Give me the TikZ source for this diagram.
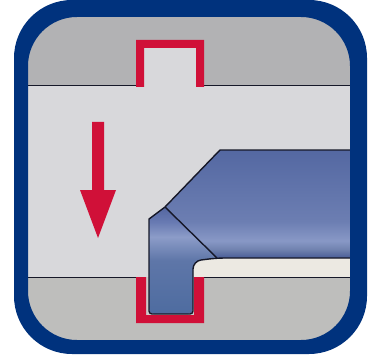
\documentclass[tikz,border=0pt]{standalone}
\definecolor{navy}{RGB}{0,50,125}
\definecolor{rd}{RGB}{208,16,56}
\definecolor{gtop}{RGB}{178,178,180}
\definecolor{gbot}{RGB}{190,190,188}
\definecolor{gmid}{RGB}{216,216,219}
\definecolor{strip}{RGB}{236,233,226}
\definecolor{edge}{RGB}{22,24,40}
\definecolor{bA}{RGB}{72,92,150}
\definecolor{bB}{RGB}{112,130,175}
\definecolor{bC}{RGB}{136,152,198}
\definecolor{bD}{RGB}{108,126,178}
\definecolor{bE}{RGB}{84,104,162}
\definecolor{tA}{RGB}{78,108,160}
\definecolor{tB}{RGB}{94,118,168}
\definecolor{tC}{RGB}{140,156,200}
\definecolor{tD}{RGB}{104,122,178}
\definecolor{tE}{RGB}{84,102,160}
\pgfdeclareverticalshading{bodysh}{100bp}{
 color(0bp)=(bA);
 color(25bp)=(bA);
 color(29bp)=(bB);
 color(33bp)=(bC);
 color(42bp)=(bD);
 color(75bp)=(bE);
 color(100bp)=(bE)}
\pgfdeclareverticalshading{tipsh}{100bp}{
 color(0bp)=(tA);
 color(25bp)=(tA);
 color(50bp)=(tB);
 color(61bp)=(tC);
 color(68bp)=(tD);
 color(75bp)=(tE);
 color(100bp)=(tE)}
\tikzset{
 outline/.style={draw=edge,line width=1.4pt,line join=round},
 redwall/.style={fill=rd,draw=none},
}
\begin{document}
\begin{tikzpicture}[x=1pt,y=-1pt]
\useasboundingbox (0,0) rectangle (374,358);
\fill[white] (0,0) rectangle (374,358);
% frame interior
\begin{scope}
\clip[rounded corners=49pt] (27,16) rectangle (351,341);
\fill[gtop] (14,0) rectangle (367,85);
\fill[gmid] (14,85) rectangle (367,277);
\fill[gbot] (14,277) rectangle (367,353);
\fill[strip] (190,258) rectangle (367,277);
\draw[edge,line width=1.4pt] (14,85.5) -- (140,85.5) (200,85.5) -- (367,85.5);
\draw[edge,line width=1.4pt] (14,277.5) -- (140,277.5) (200,277.5) -- (367,277.5);
\end{scope}
% top red notch
\fill[gmid] (144,48) rectangle (196,90);
\fill[redwall] (136,87) -- (136,40) -- (204,40) -- (204,87) -- (196,87) -- (196,48) -- (144,48) -- (144,87) -- cycle;
% bottom red notch
\fill[gmid!50!gbot] (144,277) rectangle (196,315);
\fill[redwall] (136,277) -- (136,323) -- (204,323) -- (204,277) -- (194,277) -- (194,315) -- (146,315) -- (146,277) -- cycle;
% arrow
\fill[rd] (92,122) -- (104,122) -- (104,190) -- (116,190) -- (98,238) -- (80,190) -- (92,190) -- cycle;
% tool body
\shade[shading=bodysh] (220,150) -- (350,150) -- (350,258) -- (217,258) -- (165,207) -- cycle;
% tool tip
\shade[shading=tipsh] (165,207) -- (217,258) -- (202,260) [rounded corners=5pt] -- (193,262) -- (193,314) -- (149,314) [sharp corners] -- (149,219) -- cycle;
% outlines
\draw[outline] (350,150) -- (220,150) -- (165,207) -- (149,219) [rounded corners=3pt] -- (149,314) -- (193,314) [rounded corners=8pt] -- (193,261) -- (217,258) [sharp corners] -- (350,258);
\draw[outline] (165,207) -- (217,258);
% frame
\fill[navy,even odd rule,rounded corners=58pt] (14,0) rectangle (367,354) [rounded corners=49pt] (28,17) rectangle (350,340);
\end{tikzpicture}
\end{document}
